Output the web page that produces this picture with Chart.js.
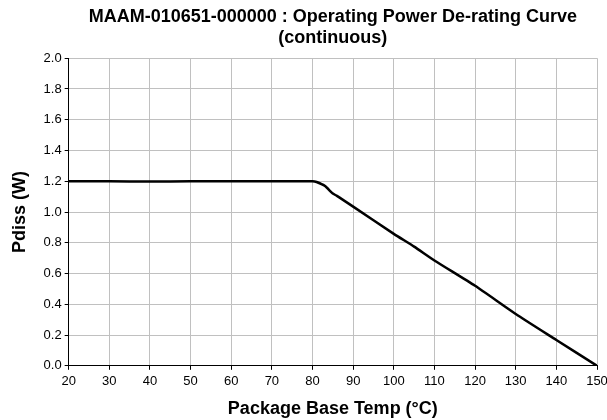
<!DOCTYPE html>
<html>
<head>
<meta charset="utf-8">
<script src="https://cdn.jsdelivr.net/npm/chart.js@4"></script>
<style>
  html, body { margin: 0; padding: 0; background: #fff; }
  #wrap { width: 607px; height: 420px; }
</style>
</head>
<body>
<div id="wrap"><canvas id="derating"></canvas></div>
<script>
// values
const temps = [20, 30, 40, 50, 60, 70, 80, 81, 83, 85, 86, 90, 100, 105, 110, 120, 130, 140, 150];
const pdiss = [1.2, 1.2, 1.198, 1.2, 1.2, 1.2, 1.2, 1.195, 1.17, 1.12, 1.105, 1.035, 0.858, 0.775, 0.685, 0.52, 0.337, 0.168, 0.0];

const chartTitle = ['MAAM-010651-000000 : Operating Power De-rating Curve', '(continuous)'];
const xTitle = 'Package Base Temp (\u00B0C)';
const yTitle = 'Pdiss (W)';

const points = temps.map((t, i) => ({ x: t, y: pdiss[i] }));

Chart.defaults.font.family = '"Liberation Sans", Arial, sans-serif';
Chart.defaults.color = '#000';

const config = {
    type: 'scatter',
    data: {
        datasets: [{
            data: points,
            showLine: true,
            borderColor: '#000',
            borderWidth: 2.5,
            pointRadius: 0,
            tension: 0.2
        }]
    },
    options: {
        responsive: true,
        maintainAspectRatio: false,
        animation: false,
        layout: { padding: { left: 6, right: 0, top: 0, bottom: 0 } },
        plugins: {
            legend: { display: false },
            tooltip: { enabled: false },
            title: {
                display: true,
                fullSize: false,
                text: chartTitle,
                font: { size: 18, weight: 'bold', lineHeight: 1.2 },
                padding: { top: 6, bottom: 9 }
            }
        },
        scales: {
            x: {
                type: 'linear',
                min: 20,
                max: 150,
                ticks: { stepSize: 10, font: { size: 13 }, padding: 4, maxRotation: 0 },
                grid: { color: '#c0c0c0', tickColor: '#000', tickLength: 4 },
                border: { color: '#000', width: 1 },
                title: { display: true, text: xTitle, font: { size: 18, weight: 'bold', lineHeight: 1.2 }, padding: { top: 5, bottom: 0 } },
                // plot edge sits 10px from the right, as in the reference
                afterFit: scale => { scale.paddingRight = 10; }
            },
            y: {
                min: 0,
                max: 2,
                ticks: { stepSize: 0.2, font: { size: 13 }, padding: 3,
                    callback: v => v.toFixed(1) },
                grid: { color: '#c0c0c0', tickColor: '#000', tickLength: 4 },
                border: { color: '#000', width: 1 },
                title: { display: true, text: yTitle, font: { size: 18, weight: 'bold', lineHeight: 1.2 }, padding: { top: 3, bottom: 10 } }
            }
        }
    }
};

new Chart(document.getElementById('derating'), config);
</script>
</body>
</html>
